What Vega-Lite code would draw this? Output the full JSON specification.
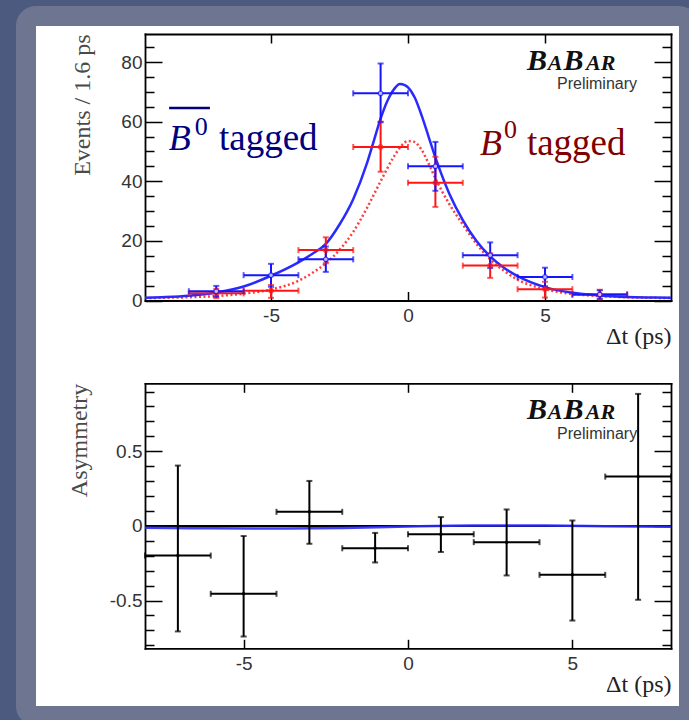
{
"$schema": "https://vega.github.io/schema/vega-lite/v6.json",
"width": 663,
"height": 700,
"autosize": {"type": "none"},
"padding": {"left": 26, "top": 16, "right": 0, "bottom": 4},
"background": "#4b5a7e",
"config": {
  "view": {"fill": "#ffffff", "stroke": "#6d7590", "strokeWidth": 20, "cornerRadius": 10},
  "axis": {"grid": false, "tickColor": "#000000", "tickWidth": 1.5, "domainColor": "#000000", "domainWidth": 1.8, "domainCap": "square", "labelFont": "Liberation Sans", "labelFontSize": 19, "labelColor": "#333333", "titleFont": "Liberation Serif", "titleFontSize": 24, "titleFontWeight": "normal", "titleColor": "#333333", "minExtent": 0, "maxExtent": 400}
},
"datasets": {
  "one": [{}],
  "top": [
    {"tag": "B0", "t": -7, "tlo": -8, "thi": -6, "n": 2.4, "nlo": 0.8, "nhi": 3.9},
    {"tag": "B0", "t": -5, "tlo": -6, "thi": -4, "n": 3.3, "nlo": 0.9, "nhi": 5.2},
    {"tag": "B0", "t": -3, "tlo": -4, "thi": -2, "n": 16.9, "nlo": 12.5, "nhi": 21.2},
    {"tag": "B0", "t": -1, "tlo": -2, "thi": 0, "n": 51.5, "nlo": 43.2, "nhi": 60.0},
    {"tag": "B0", "t": 1, "tlo": 0, "thi": 2, "n": 39.5, "nlo": 31.4, "nhi": 48.2},
    {"tag": "B0", "t": 3, "tlo": 2, "thi": 4, "n": 11.7, "nlo": 7.6, "nhi": 15.8},
    {"tag": "B0", "t": 5, "tlo": 4, "thi": 6, "n": 3.8, "nlo": 1.0, "nhi": 6.3},
    {"tag": "B0", "t": 7, "tlo": 6, "thi": 8, "n": 2.0, "nlo": 0.4, "nhi": 3.6},
    {"tag": "B0bar", "t": -7, "tlo": -8, "thi": -6, "n": 3.1, "nlo": 1.3, "nhi": 4.9},
    {"tag": "B0bar", "t": -5, "tlo": -6, "thi": -4, "n": 8.5, "nlo": 4.6, "nhi": 12.3},
    {"tag": "B0bar", "t": -3, "tlo": -4, "thi": -2, "n": 13.8, "nlo": 9.6, "nhi": 18.1},
    {"tag": "B0bar", "t": -1, "tlo": -2, "thi": 0, "n": 69.5, "nlo": 59.8, "nhi": 79.5},
    {"tag": "B0bar", "t": 1, "tlo": 0, "thi": 2, "n": 45.0, "nlo": 36.8, "nhi": 53.2},
    {"tag": "B0bar", "t": 3, "tlo": 2, "thi": 4, "n": 15.2, "nlo": 10.9, "nhi": 19.5},
    {"tag": "B0bar", "t": 5, "tlo": 4, "thi": 6, "n": 7.9, "nlo": 4.8, "nhi": 11.0},
    {"tag": "B0bar", "t": 7, "tlo": 6, "thi": 8, "n": 2.0, "nlo": 0.6, "nhi": 3.4}
  ],
  "curves": [
    {"tag": "B0bar", "t": -9.6, "v": 0.9}, {"tag": "B0bar", "t": -9, "v": 1.1}, {"tag": "B0bar", "t": -8, "v": 1.6},
    {"tag": "B0bar", "t": -7, "v": 2.7}, {"tag": "B0bar", "t": -6, "v": 4.7}, {"tag": "B0bar", "t": -5, "v": 8.3},
    {"tag": "B0bar", "t": -4, "v": 12.8}, {"tag": "B0bar", "t": -3.5, "v": 15.6}, {"tag": "B0bar", "t": -3, "v": 19.0},
    {"tag": "B0bar", "t": -2.5, "v": 25.5}, {"tag": "B0bar", "t": -2, "v": 34.0}, {"tag": "B0bar", "t": -1.5, "v": 46.0},
    {"tag": "B0bar", "t": -1.25, "v": 53.5}, {"tag": "B0bar", "t": -1, "v": 61.0}, {"tag": "B0bar", "t": -0.75, "v": 67.0},
    {"tag": "B0bar", "t": -0.5, "v": 71.0}, {"tag": "B0bar", "t": -0.3, "v": 72.6},
    {"tag": "B0bar", "t": -0.1, "v": 72.2}, {"tag": "B0bar", "t": 0, "v": 71.5}, {"tag": "B0bar", "t": 0.25, "v": 68.0},
    {"tag": "B0bar", "t": 0.5, "v": 62.0}, {"tag": "B0bar", "t": 0.75, "v": 55.0}, {"tag": "B0bar", "t": 1, "v": 48.0},
    {"tag": "B0bar", "t": 1.5, "v": 36.0}, {"tag": "B0bar", "t": 2, "v": 27.0}, {"tag": "B0bar", "t": 2.5, "v": 20.0},
    {"tag": "B0bar", "t": 3, "v": 14.8}, {"tag": "B0bar", "t": 3.5, "v": 11.0}, {"tag": "B0bar", "t": 4, "v": 8.2},
    {"tag": "B0bar", "t": 5, "v": 4.5}, {"tag": "B0bar", "t": 6, "v": 2.6}, {"tag": "B0bar", "t": 7, "v": 1.7},
    {"tag": "B0bar", "t": 8, "v": 1.2}, {"tag": "B0bar", "t": 9, "v": 1.0}, {"tag": "B0bar", "t": 9.6, "v": 0.9},
    {"tag": "B0", "t": -9.6, "v": 0.8}, {"tag": "B0", "t": -9, "v": 0.9}, {"tag": "B0", "t": -8, "v": 1.1},
    {"tag": "B0", "t": -7, "v": 1.5}, {"tag": "B0", "t": -6, "v": 2.3}, {"tag": "B0", "t": -5, "v": 3.7},
    {"tag": "B0", "t": -4, "v": 6.6}, {"tag": "B0", "t": -3.5, "v": 9.2}, {"tag": "B0", "t": -3, "v": 12.5}, {"tag": "B0", "t": -2.5, "v": 17.0},
    {"tag": "B0", "t": -2, "v": 23.0}, {"tag": "B0", "t": -1.5, "v": 31.0}, {"tag": "B0", "t": -1, "v": 40.0},
    {"tag": "B0", "t": -0.5, "v": 48.5}, {"tag": "B0", "t": -0.25, "v": 51.8}, {"tag": "B0", "t": 0, "v": 53.5},
    {"tag": "B0", "t": 0.2, "v": 53.3}, {"tag": "B0", "t": 0.5, "v": 50.5}, {"tag": "B0", "t": 0.75, "v": 46.0},
    {"tag": "B0", "t": 1, "v": 41.0}, {"tag": "B0", "t": 1.5, "v": 32.5}, {"tag": "B0", "t": 2, "v": 25.5},
    {"tag": "B0", "t": 2.5, "v": 19.0}, {"tag": "B0", "t": 3, "v": 13.8}, {"tag": "B0", "t": 3.5, "v": 10.0},
    {"tag": "B0", "t": 4, "v": 7.0}, {"tag": "B0", "t": 5, "v": 3.8}, {"tag": "B0", "t": 6, "v": 2.2},
    {"tag": "B0", "t": 7, "v": 1.5}, {"tag": "B0", "t": 8, "v": 1.1}, {"tag": "B0", "t": 9, "v": 0.9},
    {"tag": "B0", "t": 9.6, "v": 0.8}
  ],
  "asym": [
    {"t": -7, "tlo": -8, "thi": -6, "a": -0.199, "alo": -0.707, "ahi": 0.404},
    {"t": -5, "tlo": -6, "thi": -4, "a": -0.455, "alo": -0.741, "ahi": -0.068},
    {"t": -3, "tlo": -4, "thi": -2, "a": 0.094, "alo": -0.12, "ahi": 0.301},
    {"t": -1, "tlo": -2, "thi": 0, "a": -0.15, "alo": -0.245, "ahi": -0.047},
    {"t": 1, "tlo": 0, "thi": 2, "a": -0.056, "alo": -0.175, "ahi": 0.059},
    {"t": 3, "tlo": 2, "thi": 4, "a": -0.109, "alo": -0.332, "ahi": 0.11},
    {"t": 5, "tlo": 4, "thi": 6, "a": -0.328, "alo": -0.634, "ahi": 0.036},
    {"t": 7, "tlo": 6, "thi": 8, "a": 0.33, "alo": -0.495, "ahi": 0.884}
  ],
  "acurve": [
    {"t": -8, "v": -0.012}, {"t": -6, "v": -0.016}, {"t": -4, "v": -0.018}, {"t": -2, "v": -0.014},
    {"t": 0, "v": -0.004}, {"t": 2, "v": 0.002}, {"t": 4, "v": 0.002}, {"t": 6, "v": -0.002}, {"t": 8, "v": -0.006}
  ]
},
"layer": [
  {
    "layer": [
      {
        "data": {"name": "curves"},
        "transform": [{"filter": "datum.tag === 'B0'"}],
        "mark": {"type": "line", "color": "#ff3b3b", "strokeWidth": 2.5, "strokeDash": [2, 2.5], "interpolate": "monotone"},
        "encoding": {
          "x": {"field": "t", "type": "quantitative", "scale": {"domain": [-9.6, 9.6], "range": [119, 645], "nice": false, "zero": false},
                "axis": {"orient": "top", "offset": -18, "values": [-5, 0, 5], "tickSize": -9, "labels": false, "title": null}},
          "y": {"field": "v", "type": "quantitative", "scale": {"domain": [0, 89.4], "range": [284.5, 18], "nice": false, "zero": false},
                "axis": {"orient": "right", "offset": -18, "values": [0, 20, 40, 60, 80], "tickSize": -17, "labels": false, "title": null}}
        }
      },
      {
        "data": {"name": "curves"},
        "transform": [{"filter": "datum.tag === 'B0bar'"}],
        "mark": {"type": "line", "color": "#2a2aff", "strokeWidth": 2.5, "interpolate": "monotone"},
        "encoding": {
          "x": {"field": "t", "type": "quantitative", "scale": {"domain": [-9.6, 9.6], "range": [119, 645], "nice": false, "zero": false},
                "axis": {"orient": "bottom", "offset": -415.5, "values": [-5, 0, 5], "tickSize": -9, "labelPadding": 15, "format": "~g", "labelExpr": "replace(datum.label, '−', '-')",
                         "title": "Δt (ps)", "titleAnchor": "end", "titleBaseline": "alphabetic", "titlePadding": 18, "titleColor": "#222222"}},
          "y": {"field": "v", "type": "quantitative", "scale": {"domain": [0, 89.4], "range": [284.5, 18], "nice": false, "zero": false},
                "axis": {"orient": "left", "offset": -119, "values": [0, 20, 40, 60, 80], "tickSize": -17, "labelPadding": 20,
                         "title": "Events / 1.6 ps", "titleAnchor": "end", "titlePadding": 26, "titleColor": "#4a4a4a"}}
        }
      },
      {
        "data": {"name": "top"},
        "mark": {"type": "rule", "strokeWidth": 2},
        "encoding": {
          "x": {"field": "tlo", "type": "quantitative", "scale": {"domain": [-9.6, 9.6], "range": [119, 645], "nice": false, "zero": false}, "axis": null},
          "x2": {"field": "thi"},
          "y": {"field": "n", "type": "quantitative", "scale": {"domain": [0, 89.4], "range": [284.5, 18], "nice": false, "zero": false},
                "axis": {"orient": "left", "offset": -119, "values": [5, 10, 15, 25, 30, 35, 45, 50, 55, 65, 70, 75, 85], "tickSize": -9, "domain": false, "labels": false, "title": null}},
          "color": {"field": "tag", "type": "nominal", "scale": {"domain": ["B0bar", "B0"], "range": ["#1414ff", "#ff1414"]}, "legend": null}
        }
      },
      {
        "data": {"name": "top"},
        "mark": {"type": "rule", "strokeWidth": 2},
        "encoding": {
          "x": {"field": "t", "type": "quantitative", "scale": {"domain": [-9.6, 9.6], "range": [119, 645], "nice": false, "zero": false}, "axis": null},
          "y": {"field": "nlo", "type": "quantitative", "scale": {"domain": [0, 89.4], "range": [284.5, 18], "nice": false, "zero": false},
                "axis": {"orient": "right", "offset": -18, "values": [5, 10, 15, 25, 30, 35, 45, 50, 55, 65, 70, 75, 85], "tickSize": -9, "domain": false, "labels": false, "title": null}},
          "y2": {"field": "nhi"},
          "color": {"field": "tag", "type": "nominal", "scale": {"domain": ["B0bar", "B0"], "range": ["#1414ff", "#ff1414"]}, "legend": null}
        }
      },
      {
        "data": {"name": "top"},
        "transform": [{"fold": ["nlo", "nhi"], "as": ["k", "nv"]}],
        "mark": {"type": "tick", "orient": "horizontal", "size": 6, "thickness": 2},
        "encoding": {
          "x": {"field": "t", "type": "quantitative", "scale": {"domain": [-9.6, 9.6], "range": [119, 645], "nice": false, "zero": false}, "axis": null},
          "y": {"field": "nv", "type": "quantitative", "scale": {"domain": [0, 89.4], "range": [284.5, 18], "nice": false, "zero": false}, "axis": null},
          "color": {"field": "tag", "type": "nominal", "scale": {"domain": ["B0bar", "B0"], "range": ["#1414ff", "#ff1414"]}, "legend": null}
        }
      },
      {
        "data": {"name": "top"},
        "transform": [{"fold": ["tlo", "thi"], "as": ["k", "tv"]}],
        "mark": {"type": "tick", "orient": "vertical", "size": 6, "thickness": 2},
        "encoding": {
          "x": {"field": "tv", "type": "quantitative", "scale": {"domain": [-9.6, 9.6], "range": [119, 645], "nice": false, "zero": false}, "axis": null},
          "y": {"field": "n", "type": "quantitative", "scale": {"domain": [0, 89.4], "range": [284.5, 18], "nice": false, "zero": false}, "axis": null},
          "color": {"field": "tag", "type": "nominal", "scale": {"domain": ["B0bar", "B0"], "range": ["#1414ff", "#ff1414"]}, "legend": null}
        }
      },
      {
        "data": {"name": "top"},
        "mark": {"type": "point", "shape": "circle", "size": 22, "strokeWidth": 1.2, "filled": false},
        "encoding": {
          "x": {"field": "t", "type": "quantitative", "scale": {"domain": [-9.6, 9.6], "range": [119, 645], "nice": false, "zero": false}, "axis": null},
          "y": {"field": "n", "type": "quantitative", "scale": {"domain": [0, 89.4], "range": [284.5, 18], "nice": false, "zero": false}, "axis": null},
          "fill": {"field": "tag", "type": "nominal", "scale": {"domain": ["B0bar", "B0"], "range": ["#ffffff", "#ff1414"]}, "legend": null},
          "stroke": {"field": "tag", "type": "nominal", "scale": {"domain": ["B0bar", "B0"], "range": ["#1414ff", "#ff1414"]}, "legend": null}
        }
      },
      {
        "data": {"name": "one"},
        "mark": {"type": "text", "text": "B", "font": "Liberation Serif", "fontStyle": "italic", "fontSize": 36, "color": "#00007f", "align": "left", "baseline": "alphabetic"},
        "encoding": {
          "x": {"datum": -8.73, "type": "quantitative", "scale": {"domain": [-9.6, 9.6], "range": [119, 645], "nice": false, "zero": false}, "axis": null},
          "y": {"datum": 50.5, "type": "quantitative", "scale": {"domain": [0, 89.4], "range": [284.5, 18], "nice": false, "zero": false}, "axis": null}
        }
      },
      {
        "data": {"name": "one"},
        "mark": {"type": "text", "text": "0", "font": "Liberation Serif", "fontSize": 26, "color": "#00007f", "align": "left", "baseline": "alphabetic"},
        "encoding": {
          "x": {"datum": -7.78, "type": "quantitative", "scale": {"domain": [-9.6, 9.6], "range": [119, 645], "nice": false, "zero": false}, "axis": null},
          "y": {"datum": 55.6, "type": "quantitative", "scale": {"domain": [0, 89.4], "range": [284.5, 18], "nice": false, "zero": false}, "axis": null}
        }
      },
      {
        "data": {"name": "one"},
        "mark": {"type": "rule", "color": "#00007f", "strokeWidth": 2.5},
        "encoding": {
          "x": {"datum": -8.72, "type": "quantitative", "scale": {"domain": [-9.6, 9.6], "range": [119, 645], "nice": false, "zero": false}, "axis": null},
          "x2": {"datum": -7.23},
          "y": {"datum": 64.6, "type": "quantitative", "scale": {"domain": [0, 89.4], "range": [284.5, 18], "nice": false, "zero": false}, "axis": null}
        }
      },
      {
        "data": {"name": "one"},
        "mark": {"type": "text", "text": "tagged", "font": "Liberation Serif", "fontSize": 37, "color": "#00007f", "align": "left", "baseline": "alphabetic"},
        "encoding": {
          "x": {"datum": -6.9, "type": "quantitative", "scale": {"domain": [-9.6, 9.6], "range": [119, 645], "nice": false, "zero": false}, "axis": null},
          "y": {"datum": 50.5, "type": "quantitative", "scale": {"domain": [0, 89.4], "range": [284.5, 18], "nice": false, "zero": false}, "axis": null}
        }
      },
      {
        "data": {"name": "one"},
        "mark": {"type": "text", "text": "B", "font": "Liberation Serif", "fontStyle": "italic", "fontSize": 36, "color": "#7f0000", "align": "left", "baseline": "alphabetic"},
        "encoding": {
          "x": {"datum": 2.63, "type": "quantitative", "scale": {"domain": [-9.6, 9.6], "range": [119, 645], "nice": false, "zero": false}, "axis": null},
          "y": {"datum": 48.9, "type": "quantitative", "scale": {"domain": [0, 89.4], "range": [284.5, 18], "nice": false, "zero": false}, "axis": null}
        }
      },
      {
        "data": {"name": "one"},
        "mark": {"type": "text", "text": "0", "font": "Liberation Serif", "fontSize": 26, "color": "#7f0000", "align": "left", "baseline": "alphabetic"},
        "encoding": {
          "x": {"datum": 3.5, "type": "quantitative", "scale": {"domain": [-9.6, 9.6], "range": [119, 645], "nice": false, "zero": false}, "axis": null},
          "y": {"datum": 54.5, "type": "quantitative", "scale": {"domain": [0, 89.4], "range": [284.5, 18], "nice": false, "zero": false}, "axis": null}
        }
      },
      {
        "data": {"name": "one"},
        "mark": {"type": "text", "text": "tagged", "font": "Liberation Serif", "fontSize": 37, "color": "#7f0000", "align": "left", "baseline": "alphabetic"},
        "encoding": {
          "x": {"datum": 4.34, "type": "quantitative", "scale": {"domain": [-9.6, 9.6], "range": [119, 645], "nice": false, "zero": false}, "axis": null},
          "y": {"datum": 48.9, "type": "quantitative", "scale": {"domain": [0, 89.4], "range": [284.5, 18], "nice": false, "zero": false}, "axis": null}
        }
      },
      {
        "data": {"name": "one"},
        "mark": {"type": "text", "text": "B", "font": "Liberation Serif", "fontStyle": "italic", "fontWeight": "bold", "fontSize": 30, "color": "#111111", "align": "left", "baseline": "alphabetic"},
        "encoding": {
          "x": {"datum": 4.34, "type": "quantitative", "scale": {"domain": [-9.6, 9.6], "range": [119, 645], "nice": false, "zero": false}, "axis": null},
          "y": {"datum": 77.2, "type": "quantitative", "scale": {"domain": [0, 89.4], "range": [284.5, 18], "nice": false, "zero": false}, "axis": null}
        }
      },
      {
        "data": {"name": "one"},
        "mark": {"type": "text", "text": "A", "font": "Liberation Serif", "fontStyle": "italic", "fontWeight": "bold", "fontSize": 22, "color": "#111111", "align": "left", "baseline": "alphabetic"},
        "encoding": {
          "x": {"datum": 5.1, "type": "quantitative", "scale": {"domain": [-9.6, 9.6], "range": [119, 645], "nice": false, "zero": false}, "axis": null},
          "y": {"datum": 77.2, "type": "quantitative", "scale": {"domain": [0, 89.4], "range": [284.5, 18], "nice": false, "zero": false}, "axis": null}
        }
      },
      {
        "data": {"name": "one"},
        "mark": {"type": "text", "text": "B", "font": "Liberation Serif", "fontStyle": "italic", "fontWeight": "bold", "fontSize": 30, "color": "#111111", "align": "left", "baseline": "alphabetic"},
        "encoding": {
          "x": {"datum": 5.68, "type": "quantitative", "scale": {"domain": [-9.6, 9.6], "range": [119, 645], "nice": false, "zero": false}, "axis": null},
          "y": {"datum": 77.2, "type": "quantitative", "scale": {"domain": [0, 89.4], "range": [284.5, 18], "nice": false, "zero": false}, "axis": null}
        }
      },
      {
        "data": {"name": "one"},
        "mark": {"type": "text", "text": "AR", "font": "Liberation Serif", "fontStyle": "italic", "fontWeight": "bold", "fontSize": 22, "color": "#111111", "align": "left", "baseline": "alphabetic"},
        "encoding": {
          "x": {"datum": 6.5, "type": "quantitative", "scale": {"domain": [-9.6, 9.6], "range": [119, 645], "nice": false, "zero": false}, "axis": null},
          "y": {"datum": 77.2, "type": "quantitative", "scale": {"domain": [0, 89.4], "range": [284.5, 18], "nice": false, "zero": false}, "axis": null}
        }
      },
      {
        "data": {"name": "one"},
        "mark": {"type": "text", "text": "Preliminary", "font": "Liberation Sans", "fontSize": 16, "color": "#333333", "align": "right", "baseline": "alphabetic"},
        "encoding": {
          "x": {"datum": 8.36, "type": "quantitative", "scale": {"domain": [-9.6, 9.6], "range": [119, 645], "nice": false, "zero": false}, "axis": null},
          "y": {"datum": 70.9, "type": "quantitative", "scale": {"domain": [0, 89.4], "range": [284.5, 18], "nice": false, "zero": false}, "axis": null}
        }
      }
    ],
    "resolve": {"axis": {"x": "independent", "y": "independent"}}
  },
  {
    "layer": [
      {
        "data": {"name": "one"},
        "mark": {"type": "rule", "color": "#000000", "strokeWidth": 2},
        "encoding": {
          "x": {"datum": -8, "type": "quantitative", "scale": {"domain": [-8, 8], "range": [119, 645], "nice": false, "zero": false},
                "axis": {"orient": "bottom", "offset": -67.7, "values": [-5, 0, 5], "tickSize": -9, "labelPadding": 15, "format": "~g", "labelExpr": "replace(datum.label, '−', '-')",
                         "title": "Δt (ps)", "titleAnchor": "end", "titleBaseline": "alphabetic", "titlePadding": 18, "titleColor": "#222222"}},
          "x2": {"datum": 8},
          "y": {"datum": 0, "type": "quantitative", "scale": {"domain": [-0.82, 0.955], "range": [632.3, 367.3], "nice": false, "zero": false},
                "axis": {"orient": "left", "offset": -119, "values": [-0.5, 0, 0.5], "tickSize": -17, "labelPadding": 20, "format": "~g", "labelExpr": "replace(datum.label, '−', '-')",
                         "title": "Asymmetry", "titleAnchor": "end", "titlePadding": 18, "titleColor": "#4a4a4a"}}
        }
      },
      {
        "data": {"name": "acurve"},
        "mark": {"type": "line", "color": "#2a2aff", "strokeWidth": 2.5, "opacity": 0.9, "interpolate": "monotone"},
        "encoding": {
          "x": {"field": "t", "type": "quantitative", "scale": {"domain": [-8, 8], "range": [119, 645], "nice": false, "zero": false},
                "axis": {"orient": "top", "offset": -367.3, "values": [-5, 0, 5], "tickSize": -9, "labels": false, "title": null}},
          "y": {"field": "v", "type": "quantitative", "scale": {"domain": [-0.82, 0.955], "range": [632.3, 367.3], "nice": false, "zero": false},
                "axis": {"orient": "right", "offset": -18, "values": [-0.5, 0, 0.5], "tickSize": -17, "labels": false, "title": null}}
        }
      },
      {
        "data": {"name": "asym"},
        "mark": {"type": "rule", "color": "#000000", "strokeWidth": 2},
        "encoding": {
          "x": {"field": "tlo", "type": "quantitative", "scale": {"domain": [-8, 8], "range": [119, 645], "nice": false, "zero": false}, "axis": null},
          "x2": {"field": "thi"},
          "y": {"field": "a", "type": "quantitative", "scale": {"domain": [-0.82, 0.955], "range": [632.3, 367.3], "nice": false, "zero": false},
                "axis": {"orient": "left", "offset": -119, "values": [-0.8, -0.7, -0.6, -0.4, -0.3, -0.2, -0.1, 0.1, 0.2, 0.3, 0.4, 0.6, 0.7, 0.8, 0.9], "tickSize": -9, "domain": false, "labels": false, "title": null}}
        }
      },
      {
        "data": {"name": "asym"},
        "mark": {"type": "rule", "color": "#000000", "strokeWidth": 2},
        "encoding": {
          "x": {"field": "t", "type": "quantitative", "scale": {"domain": [-8, 8], "range": [119, 645], "nice": false, "zero": false}, "axis": null},
          "y": {"field": "alo", "type": "quantitative", "scale": {"domain": [-0.82, 0.955], "range": [632.3, 367.3], "nice": false, "zero": false},
                "axis": {"orient": "right", "offset": -18, "values": [-0.8, -0.7, -0.6, -0.4, -0.3, -0.2, -0.1, 0.1, 0.2, 0.3, 0.4, 0.6, 0.7, 0.8, 0.9], "tickSize": -9, "domain": false, "labels": false, "title": null}},
          "y2": {"field": "ahi"}
        }
      },
      {
        "data": {"name": "asym"},
        "transform": [{"fold": ["alo", "ahi"], "as": ["k", "av"]}],
        "mark": {"type": "tick", "orient": "horizontal", "size": 6, "thickness": 2, "color": "#000000"},
        "encoding": {
          "x": {"field": "t", "type": "quantitative", "scale": {"domain": [-8, 8], "range": [119, 645], "nice": false, "zero": false}, "axis": null},
          "y": {"field": "av", "type": "quantitative", "scale": {"domain": [-0.82, 0.955], "range": [632.3, 367.3], "nice": false, "zero": false}, "axis": null}
        }
      },
      {
        "data": {"name": "asym"},
        "transform": [{"fold": ["tlo", "thi"], "as": ["k", "tv"]}],
        "mark": {"type": "tick", "orient": "vertical", "size": 6, "thickness": 2, "color": "#000000"},
        "encoding": {
          "x": {"field": "tv", "type": "quantitative", "scale": {"domain": [-8, 8], "range": [119, 645], "nice": false, "zero": false}, "axis": null},
          "y": {"field": "a", "type": "quantitative", "scale": {"domain": [-0.82, 0.955], "range": [632.3, 367.3], "nice": false, "zero": false}, "axis": null}
        }
      },
      {
        "data": {"name": "asym"},
        "mark": {"type": "point", "shape": "circle", "size": 12, "filled": true, "color": "#000000", "opacity": 1},
        "encoding": {
          "x": {"field": "t", "type": "quantitative", "scale": {"domain": [-8, 8], "range": [119, 645], "nice": false, "zero": false}, "axis": null},
          "y": {"field": "a", "type": "quantitative", "scale": {"domain": [-0.82, 0.955], "range": [632.3, 367.3], "nice": false, "zero": false}, "axis": null}
        }
      },
      {
        "data": {"name": "one"},
        "mark": {"type": "text", "text": "B", "font": "Liberation Serif", "fontStyle": "italic", "fontWeight": "bold", "fontSize": 30, "color": "#111111", "align": "left", "baseline": "alphabetic"},
        "encoding": {
          "x": {"datum": 3.62, "type": "quantitative", "scale": {"domain": [-8, 8], "range": [119, 645], "nice": false, "zero": false}, "axis": null},
          "y": {"datum": 0.715, "type": "quantitative", "scale": {"domain": [-0.82, 0.955], "range": [632.3, 367.3], "nice": false, "zero": false}, "axis": null}
        }
      },
      {
        "data": {"name": "one"},
        "mark": {"type": "text", "text": "A", "font": "Liberation Serif", "fontStyle": "italic", "fontWeight": "bold", "fontSize": 22, "color": "#111111", "align": "left", "baseline": "alphabetic"},
        "encoding": {
          "x": {"datum": 4.25, "type": "quantitative", "scale": {"domain": [-8, 8], "range": [119, 645], "nice": false, "zero": false}, "axis": null},
          "y": {"datum": 0.715, "type": "quantitative", "scale": {"domain": [-0.82, 0.955], "range": [632.3, 367.3], "nice": false, "zero": false}, "axis": null}
        }
      },
      {
        "data": {"name": "one"},
        "mark": {"type": "text", "text": "B", "font": "Liberation Serif", "fontStyle": "italic", "fontWeight": "bold", "fontSize": 30, "color": "#111111", "align": "left", "baseline": "alphabetic"},
        "encoding": {
          "x": {"datum": 4.73, "type": "quantitative", "scale": {"domain": [-8, 8], "range": [119, 645], "nice": false, "zero": false}, "axis": null},
          "y": {"datum": 0.715, "type": "quantitative", "scale": {"domain": [-0.82, 0.955], "range": [632.3, 367.3], "nice": false, "zero": false}, "axis": null}
        }
      },
      {
        "data": {"name": "one"},
        "mark": {"type": "text", "text": "AR", "font": "Liberation Serif", "fontStyle": "italic", "fontWeight": "bold", "fontSize": 22, "color": "#111111", "align": "left", "baseline": "alphabetic"},
        "encoding": {
          "x": {"datum": 5.41, "type": "quantitative", "scale": {"domain": [-8, 8], "range": [119, 645], "nice": false, "zero": false}, "axis": null},
          "y": {"datum": 0.715, "type": "quantitative", "scale": {"domain": [-0.82, 0.955], "range": [632.3, 367.3], "nice": false, "zero": false}, "axis": null}
        }
      },
      {
        "data": {"name": "one"},
        "mark": {"type": "text", "text": "Preliminary", "font": "Liberation Sans", "fontSize": 16, "color": "#333333", "align": "right", "baseline": "alphabetic"},
        "encoding": {
          "x": {"datum": 6.97, "type": "quantitative", "scale": {"domain": [-8, 8], "range": [119, 645], "nice": false, "zero": false}, "axis": null},
          "y": {"datum": 0.585, "type": "quantitative", "scale": {"domain": [-0.82, 0.955], "range": [632.3, 367.3], "nice": false, "zero": false}, "axis": null}
        }
      }
    ],
    "resolve": {"axis": {"x": "independent", "y": "independent"}}
  }
],
"resolve": {"scale": {"x": "independent", "y": "independent"}}
}
